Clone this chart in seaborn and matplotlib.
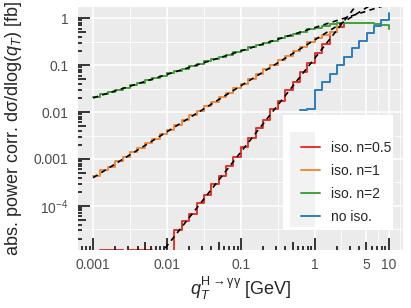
import numpy as np
import pandas as pd
import matplotlib
matplotlib.use("Agg")
import matplotlib.pyplot as plt
import seaborn as sns
from matplotlib.lines import Line2D
from matplotlib.patches import Rectangle
from matplotlib.ticker import NullFormatter
from matplotlib.transforms import blended_transform_factory as blend

# histogram bin edges in q_T [GeV], ten per decade between 1e-3 and 10
qt_edges = np.logspace(-3, 1, 41)

# dsigma/dlog(qT) [fb] at each bin edge (0 = empty bin)
red_vals = [1e-7, 0, 0, 0, 1e-7, 0, 0, 0, 1e-7, 1e-7, 1e-7,
            3.0e-5, 4.7e-5, 6.8e-5, 1.15e-4, 1.74e-4, 2.9e-4, 4.4e-4, 7.2e-4, 1.10e-3, 1.82e-3,
            2.75e-3, 4.6e-3, 6.9e-3, 0.0115, 0.0174, 0.0288, 0.0437, 0.0724, 0.112, 0.182,
            0.288, 0.50, 0.66, 0.78, 0.78]
orange_vals = [4.4e-4, 5.7e-4, 6.9e-4, 8.9e-4, 1.09e-3, 1.40e-3, 1.71e-3, 2.19e-3, 2.68e-3, 3.44e-3,
               4.22e-3, 5.39e-3, 6.62e-3, 8.46e-3, 0.0104, 0.0133, 0.0164, 0.0209, 0.0256, 0.0328,
               0.0402, 0.0514, 0.0632, 0.0808, 0.0990, 0.127, 0.155, 0.199, 0.244, 0.316,
               0.380, 0.437, 0.500, 0.790, 0.790]
green_vals = [0.0209, 0.0238, 0.0264, 0.0301, 0.0333, 0.0378, 0.0419, 0.0476, 0.0528, 0.0599,
              0.0664, 0.0754, 0.0838, 0.0949, 0.105, 0.120, 0.132, 0.151, 0.167, 0.190,
              0.209, 0.239, 0.264, 0.301, 0.333, 0.379, 0.418, 0.470, 0.515, 0.578,
              0.628, 0.690, 0.738, 0.776, 0.790, 0.792, 0.785, 0.772, 0.755, 0.720, 0.590]
blue_vals = [0.0112, 0.0117, 0.0295, 0.0437, 0.066, 0.100, 0.151, 0.226, 0.331, 0.479,
             0.69, 0.91, 1.26]

labels = ["iso. n=0.5", "iso. n=1", "iso. n=2", "no iso."]
colors = ["#E6332A", "#F28A3C", "#3DA33A", "#2A7DC1"]
first_edge = [0, 0, 0, 28]

# power-law fits (black dashed), end points
fit_x = [1e-3, 20.0]
fit_red = [1.41e-7, 56.2]
fit_orange = [3.98e-4, 6.5]
fit_green = [0.020, 2.82]

x_ticks = [0.001, 0.01, 0.1, 1, 5, 10]
x_ticklabels = ["0.001", "0.01", "0.1", "1", "5", "10"]
y_ticks = [1e-4, 1e-3, 1e-2, 0.1, 1]
y_ticklabels = [r"$\mathregular{10^{-4}}$", "0.001", "0.01", "0.1", "1"]

xlim = (10 ** -3.2, 10 ** 1.2)
ylim = (10 ** -4.94, 10 ** 0.245)

rows = []
for lab, start, vals in zip(labels, first_edge, [red_vals, orange_vals, green_vals, blue_vals]):
    for q, v in zip(qt_edges[start:start + len(vals)], vals):
        rows.append((lab, q, v))
df = pd.DataFrame(rows, columns=["sample", "qT", "xs"])
# empty bins sit on the lower panel edge (like -Inf in ggplot)
df["y"] = df["xs"].where(df["xs"] > 0, ylim[0])

sns.set_theme(style="darkgrid", rc={"axes.facecolor": "#EBEBEB", "grid.color": "white"})
plt.rcParams["font.family"] = ["Liberation Sans", "DejaVu Sans"]
plt.rcParams["mathtext.fontset"] = "custom"
plt.rcParams["mathtext.rm"] = "Liberation Sans"
plt.rcParams["mathtext.it"] = "Liberation Sans:italic"
plt.rcParams["mathtext.bf"] = "Liberation Sans:bold"

fig = plt.figure(figsize=(4.11, 3.08), dpi=100)
ax = fig.add_axes([0.1905, 0.1883, 0.7912, 0.790])
ax.set_xscale("log")
ax.set_yscale("log")

sns.lineplot(data=df, x="qT", y="y", hue="sample", hue_order=labels, palette=colors,
             estimator=None, sort=False, drawstyle="steps-post", linewidth=1.4,
             legend=False, ax=ax)

for fy in (fit_red, fit_orange, fit_green):
    ax.plot(fit_x, fy, color="black", lw=1.2, ls=(0, (3.2, 2.6)), zorder=3)

ax.set_xlim(*xlim)
ax.set_ylim(*ylim)

# ggplot style minor grid: half way between breaks in log space
bx = np.array([x_ticks[0] ** 2 / x_ticks[1]] + x_ticks + [x_ticks[-1] ** 2 / x_ticks[-2]])
by = np.array([y_ticks[0] / 10] + y_ticks + [y_ticks[-1] * 10])
ax.set_xticks(x_ticks, x_ticklabels)
ax.set_yticks(y_ticks, y_ticklabels)
ax.set_xticks(np.sqrt(bx[:-1] * bx[1:]), minor=True)
ax.set_yticks(np.sqrt(by[:-1] * by[1:]), minor=True)
ax.xaxis.set_minor_formatter(NullFormatter())
ax.yaxis.set_minor_formatter(NullFormatter())
ax.grid(which="major", color="white", lw=1.1)
ax.grid(which="minor", color="white", lw=0.55)
ax.tick_params(which="both", length=0)
ax.tick_params(axis="x", pad=6, labelsize=10, labelcolor="#4D4D4D")
ax.tick_params(axis="y", pad=7, labelsize=10, labelcolor="#4D4D4D")
for s in ax.spines.values():
    s.set_visible(False)

# log ticks drawn inside the panel (long at decades, medium at 5)
w_px = 0.7912 * 411
h_px = 0.790 * 308
tx, tlx, ty, tly = [], [], [], []
for d in range(-6, 2):
    for k in range(1, 10):
        v = k * 10.0 ** d
        L = 12 if k == 1 else (8 if k == 5 else 4)
        if xlim[0] <= v <= xlim[1]:
            tx.append(v)
            tlx.append(L / h_px)
        if ylim[0] <= v <= ylim[1]:
            ty.append(v)
            tly.append(L / w_px)
ax.vlines(tx, 0, tlx, transform=blend(ax.transData, ax.transAxes),
          colors="black", lw=1.1, zorder=6)
ax.hlines(ty, 0, tly, transform=blend(ax.transAxes, ax.transData),
          colors="black", lw=1.1, zorder=6)
ax.set_xlim(*xlim)
ax.set_ylim(*ylim)

# legend box and key background
ax.add_patch(Rectangle((0.6285, 0.0822), 0.340, 0.4727, transform=ax.transAxes,
                       facecolor="white", edgecolor="none", zorder=4))
ax.add_patch(Rectangle((0.652, 0.0945), 0.0769, 0.3905, transform=ax.transAxes,
                       facecolor="#F2F2F2", edgecolor="none", zorder=4.1))
handles = [Line2D([], [], color=c, lw=1.4) for c in colors]
ax.legend(handles, labels, loc="upper left", bbox_to_anchor=(0.6624, 0.4767),
          borderpad=0, handlelength=1.37, handletextpad=0.8, labelspacing=0.65,
          frameon=False, fontsize=10)

ax.set_xlabel(r"$q_T^{\mathrm{H\rightarrow\gamma\gamma}}$ [GeV]", fontsize=13, labelpad=2)
ax.set_ylabel("abs. power corr. d\u03c3/dlog($q_T$) [fb]", fontsize=13, labelpad=7)

fig.savefig("out.png", dpi=100)
